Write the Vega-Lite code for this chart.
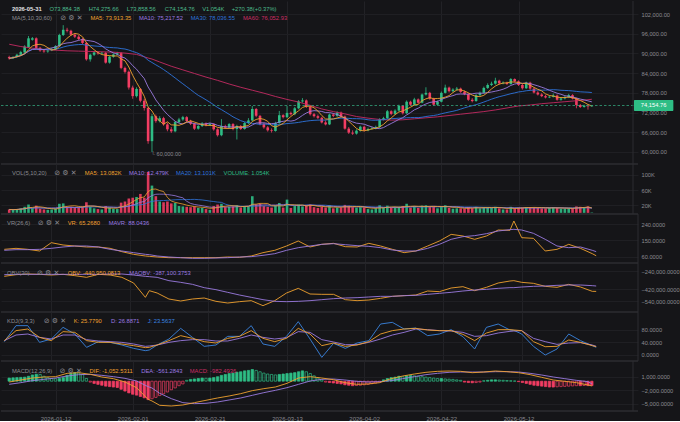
{
"$schema":"https://vega.github.io/schema/vega-lite/v6.json",
"background":"#151518",
"padding":0,
"spacing":0,
"bounds":"flush",
"config":{
"view":{"stroke":null},
"font":"Liberation Sans",
"axis":{"title":null,"ticks":false,"tickSize":0,"domain":false,"labelColor":"#8b8b91","labelFont":"Liberation Sans","labelFontSize":5.7,"labelPadding":3,"labelFlush":false,"labelOverlap":false,"labelBound":false,"gridColor":"#1f1f23","gridWidth":1},
"text":{"font":"Liberation Sans","fontSize":5.8,"align":"left","baseline":"middle"},
"line":{"strokeWidth":0.9},
"concat":{"spacing":0}
},
"datasets":{
"k":[
{"d":"2025-12-31","o":88900,"h":89300,"l":88100,"c":88500,"v":9000,"m":700},
{"d":"2026-01-01","o":88500,"h":89200,"l":88300,"c":88900,"v":8000,"m":750},
{"d":"2026-01-02","o":88900,"h":89900,"l":88700,"c":89600,"v":10000,"m":800},
{"d":"2026-01-03","o":89600,"h":90800,"l":89400,"c":90400,"v":12000,"m":850},
{"d":"2026-01-04","o":90300,"h":92500,"l":90100,"c":92100,"v":16000,"m":900},
{"d":"2026-01-05","o":91900,"h":95300,"l":91700,"c":94600,"v":22000,"m":1100},
{"d":"2026-01-06","o":94200,"h":95000,"l":93900,"c":94600,"v":12000,"m":1400},
{"d":"2026-01-07","o":94600,"h":94900,"l":91300,"c":91700,"v":19000,"m":1550},
{"d":"2026-01-08","o":91700,"h":92000,"l":90500,"c":90900,"v":11000,"m":1500},
{"d":"2026-01-09","o":90900,"h":91400,"l":90200,"c":90600,"v":9000,"m":1100},
{"d":"2026-01-10","o":90600,"h":91200,"l":90200,"c":90900,"v":8000,"m":800},
{"d":"2026-01-11","o":90900,"h":91700,"l":90700,"c":91300,"v":9000,"m":600},
{"d":"2026-01-12","o":91300,"h":92500,"l":91000,"c":92200,"v":12000,"m":550},
{"d":"2026-01-13","o":92200,"h":96000,"l":92000,"c":95600,"v":24000,"m":600},
{"d":"2026-01-14","o":95600,"h":98600,"l":95300,"c":97200,"v":25000,"m":800},
{"d":"2026-01-15","o":97200,"h":97800,"l":96400,"c":96900,"v":15000,"m":1300},
{"d":"2026-01-16","o":96900,"h":97200,"l":95400,"c":95700,"v":16000,"m":1700},
{"d":"2026-01-17","o":95700,"h":96100,"l":94700,"c":95100,"v":14000,"m":1900},
{"d":"2026-01-18","o":95100,"h":95600,"l":94000,"c":94400,"v":15000,"m":1800},
{"d":"2026-01-19","o":94400,"h":94700,"l":92800,"c":93200,"v":17000,"m":1500},
{"d":"2026-01-20","o":93200,"h":93500,"l":87800,"c":88200,"v":28000,"m":600},
{"d":"2026-01-21","o":88200,"h":89900,"l":87500,"c":89600,"v":16000,"m":-200},
{"d":"2026-01-22","o":89600,"h":90700,"l":89200,"c":90300,"v":12000,"m":-500},
{"d":"2026-01-23","o":90300,"h":90600,"l":89600,"c":90000,"v":10000,"m":-700},
{"d":"2026-01-24","o":90000,"h":90500,"l":89700,"c":90200,"v":9000,"m":-900},
{"d":"2026-01-25","o":90200,"h":90400,"l":86900,"c":87200,"v":18000,"m":-1100},
{"d":"2026-01-26","o":87200,"h":89300,"l":86900,"c":89000,"v":14000,"m":-1200},
{"d":"2026-01-27","o":89000,"h":90000,"l":88700,"c":89700,"v":11000,"m":-1300},
{"d":"2026-01-28","o":89700,"h":90500,"l":89400,"c":90100,"v":10000,"m":-1400},
{"d":"2026-01-29","o":90100,"h":90400,"l":85200,"c":85600,"v":27000,"m":-1800},
{"d":"2026-01-30","o":85600,"h":86000,"l":83900,"c":84400,"v":30000,"m":-2200},
{"d":"2026-01-31","o":84400,"h":84800,"l":79000,"c":79600,"v":38000,"m":-2600},
{"d":"2026-02-01","o":79600,"h":80200,"l":76200,"c":77000,"v":40000,"m":-2900},
{"d":"2026-02-02","o":77000,"h":79700,"l":76600,"c":79200,"v":42000,"m":-3100},
{"d":"2026-02-03","o":79200,"h":79500,"l":75100,"c":75600,"v":50000,"m":-3400},
{"d":"2026-02-04","o":75600,"h":76200,"l":72600,"c":73400,"v":40000,"m":-3700},
{"d":"2026-02-05","o":73400,"h":73700,"l":62500,"c":63300,"v":108000,"m":-4100},
{"d":"2026-02-06","o":63300,"h":71600,"l":60000,"c":70900,"v":72000,"m":-3900},
{"d":"2026-02-07","o":70900,"h":71400,"l":68900,"c":69400,"v":44000,"m":-3600},
{"d":"2026-02-08","o":69400,"h":70900,"l":69000,"c":70300,"v":30000,"m":-3200},
{"d":"2026-02-09","o":70300,"h":70700,"l":68000,"c":68400,"v":28000,"m":-2800},
{"d":"2026-02-10","o":68400,"h":68900,"l":66300,"c":66900,"v":30000,"m":-2400},
{"d":"2026-02-11","o":66900,"h":67600,"l":65800,"c":66300,"v":25000,"m":-1900},
{"d":"2026-02-12","o":66300,"h":69400,"l":66000,"c":69100,"v":26000,"m":-1500},
{"d":"2026-02-13","o":69100,"h":70400,"l":68800,"c":69900,"v":18000,"m":-1000},
{"d":"2026-02-14","o":69900,"h":71000,"l":69500,"c":70600,"v":17000,"m":-600},
{"d":"2026-02-15","o":70600,"h":70900,"l":69000,"c":69400,"v":16000,"m":200},
{"d":"2026-02-16","o":69400,"h":69800,"l":68200,"c":68600,"v":15000,"m":400},
{"d":"2026-02-17","o":68600,"h":68900,"l":66700,"c":67100,"v":17000,"m":500},
{"d":"2026-02-18","o":67100,"h":68200,"l":66800,"c":67900,"v":13000,"m":600},
{"d":"2026-02-19","o":67900,"h":69100,"l":67600,"c":68700,"v":13000,"m":700},
{"d":"2026-02-20","o":68700,"h":69000,"l":67800,"c":68200,"v":10000,"m":650},
{"d":"2026-02-21","o":68200,"h":68900,"l":67900,"c":68500,"v":8000,"m":700},
{"d":"2026-02-22","o":68500,"h":68700,"l":66500,"c":66900,"v":18000,"m":800},
{"d":"2026-02-23","o":66900,"h":67200,"l":64700,"c":65100,"v":22000,"m":1000},
{"d":"2026-02-24","o":65100,"h":70000,"l":64800,"c":67900,"v":24000,"m":1300},
{"d":"2026-02-25","o":67900,"h":68300,"l":67000,"c":67400,"v":15000,"m":1500},
{"d":"2026-02-26","o":67400,"h":68800,"l":67100,"c":68500,"v":16000,"m":1700},
{"d":"2026-02-27","o":68500,"h":68800,"l":66600,"c":67000,"v":17000,"m":1800},
{"d":"2026-02-28","o":67000,"h":68300,"l":63800,"c":67900,"v":20000,"m":2000},
{"d":"2026-03-01","o":67900,"h":68200,"l":66700,"c":67000,"v":14000,"m":2100},
{"d":"2026-03-02","o":67000,"h":69100,"l":66800,"c":68800,"v":18000,"m":2300},
{"d":"2026-03-03","o":68800,"h":70300,"l":68500,"c":69600,"v":17000,"m":2400},
{"d":"2026-03-04","o":69600,"h":74000,"l":69300,"c":73100,"v":44000,"m":2600},
{"d":"2026-03-05","o":73100,"h":73400,"l":70600,"c":71000,"v":22000,"m":2400},
{"d":"2026-03-06","o":71000,"h":71300,"l":68100,"c":68500,"v":24000,"m":2100},
{"d":"2026-03-07","o":68500,"h":68900,"l":67100,"c":67500,"v":18000,"m":1800},
{"d":"2026-03-08","o":67500,"h":67900,"l":66200,"c":66600,"v":16000,"m":1600},
{"d":"2026-03-09","o":66600,"h":67200,"l":65900,"c":66400,"v":14000,"m":1500},
{"d":"2026-03-10","o":66400,"h":69200,"l":66200,"c":68800,"v":20000,"m":1400},
{"d":"2026-03-11","o":68800,"h":72500,"l":68600,"c":71200,"v":26000,"m":1500},
{"d":"2026-03-12","o":71200,"h":71500,"l":70200,"c":70600,"v":14000,"m":1600},
{"d":"2026-03-13","o":70600,"h":74000,"l":70300,"c":71900,"v":35000,"m":1700},
{"d":"2026-03-14","o":71900,"h":72300,"l":71100,"c":71500,"v":13000,"m":1800},
{"d":"2026-03-15","o":71500,"h":73700,"l":71200,"c":73300,"v":18000,"m":1900},
{"d":"2026-03-16","o":73300,"h":75800,"l":73000,"c":75400,"v":22000,"m":2100},
{"d":"2026-03-17","o":75400,"h":76400,"l":75000,"c":75700,"v":17000,"m":2300},
{"d":"2026-03-18","o":75700,"h":76000,"l":73400,"c":73800,"v":20000,"m":2100},
{"d":"2026-03-19","o":73800,"h":74100,"l":71100,"c":71500,"v":22000,"m":1700},
{"d":"2026-03-20","o":71500,"h":71900,"l":70500,"c":70900,"v":15000,"m":1200},
{"d":"2026-03-21","o":70900,"h":71400,"l":70000,"c":70400,"v":13000,"m":700},
{"d":"2026-03-22","o":70400,"h":70700,"l":68700,"c":69000,"v":16000,"m":300},
{"d":"2026-03-23","o":69000,"h":69600,"l":68100,"c":68400,"v":14000,"m":-200},
{"d":"2026-03-24","o":68400,"h":71700,"l":68200,"c":71400,"v":20000,"m":-300},
{"d":"2026-03-25","o":71400,"h":71800,"l":70600,"c":71000,"v":12000,"m":-400},
{"d":"2026-03-26","o":71000,"h":72400,"l":70700,"c":72000,"v":14000,"m":-500},
{"d":"2026-03-27","o":72000,"h":72300,"l":70400,"c":70800,"v":14000,"m":-600},
{"d":"2026-03-28","o":70800,"h":71100,"l":66800,"c":67100,"v":21000,"m":-800},
{"d":"2026-03-29","o":67100,"h":67600,"l":65500,"c":65900,"v":19000,"m":-900},
{"d":"2026-03-30","o":65900,"h":66600,"l":65200,"c":65600,"v":15000,"m":-1000},
{"d":"2026-03-31","o":65600,"h":66900,"l":65300,"c":66500,"v":14000,"m":-950},
{"d":"2026-04-01","o":66500,"h":68000,"l":66200,"c":67700,"v":15000,"m":-900},
{"d":"2026-04-02","o":67700,"h":68000,"l":66200,"c":66600,"v":14000,"m":-800},
{"d":"2026-04-03","o":66600,"h":67400,"l":66300,"c":67000,"v":10000,"m":-700},
{"d":"2026-04-04","o":67000,"h":67600,"l":66800,"c":67200,"v":9000,"m":-550},
{"d":"2026-04-05","o":67200,"h":68000,"l":66900,"c":67600,"v":12000,"m":-400},
{"d":"2026-04-06","o":67600,"h":70300,"l":67300,"c":69900,"v":20000,"m":-200},
{"d":"2026-04-07","o":69900,"h":70700,"l":69600,"c":70300,"v":14000,"m":300},
{"d":"2026-04-08","o":70300,"h":72800,"l":70000,"c":72400,"v":19000,"m":600},
{"d":"2026-04-09","o":72400,"h":72700,"l":71200,"c":71600,"v":13000,"m":800},
{"d":"2026-04-10","o":71600,"h":73000,"l":71300,"c":72600,"v":14000,"m":900},
{"d":"2026-04-11","o":72600,"h":74400,"l":72300,"c":74000,"v":16000,"m":1100},
{"d":"2026-04-12","o":74000,"h":74300,"l":71400,"c":71800,"v":18000,"m":1000},
{"d":"2026-04-13","o":71800,"h":75700,"l":71600,"c":75300,"v":24000,"m":1200},
{"d":"2026-04-14","o":75300,"h":75600,"l":74000,"c":74400,"v":14000,"m":1300},
{"d":"2026-04-15","o":74400,"h":76500,"l":74100,"c":76000,"v":17000,"m":1200},
{"d":"2026-04-16","o":76000,"h":76300,"l":74700,"c":75000,"v":13000,"m":1100},
{"d":"2026-04-17","o":75000,"h":77800,"l":74800,"c":77500,"v":19000,"m":1000},
{"d":"2026-04-18","o":77500,"h":79700,"l":77200,"c":78000,"v":20000,"m":900},
{"d":"2026-04-19","o":78000,"h":78300,"l":75900,"c":76200,"v":16000,"m":800},
{"d":"2026-04-20","o":76200,"h":76500,"l":74100,"c":74400,"v":17000,"m":700},
{"d":"2026-04-21","o":74400,"h":75700,"l":74100,"c":75300,"v":12000,"m":600},
{"d":"2026-04-22","o":75300,"h":78400,"l":75100,"c":78000,"v":18000,"m":600},
{"d":"2026-04-23","o":78000,"h":80500,"l":77800,"c":79600,"v":20000,"m":500},
{"d":"2026-04-24","o":79600,"h":79900,"l":78100,"c":78500,"v":13000,"m":450},
{"d":"2026-04-25","o":78500,"h":79400,"l":78200,"c":79000,"v":11000,"m":400},
{"d":"2026-04-26","o":79000,"h":79800,"l":78700,"c":79300,"v":12000,"m":300},
{"d":"2026-04-27","o":79300,"h":79600,"l":78000,"c":78300,"v":12000,"m":200},
{"d":"2026-04-28","o":78300,"h":78700,"l":77300,"c":77600,"v":11000,"m":-200},
{"d":"2026-04-29","o":77600,"h":77900,"l":75600,"c":75900,"v":15000,"m":-300},
{"d":"2026-04-30","o":75900,"h":76400,"l":75100,"c":75500,"v":12000,"m":-350},
{"d":"2026-05-01","o":75500,"h":77600,"l":75300,"c":77300,"v":16000,"m":-300},
{"d":"2026-05-02","o":77300,"h":78400,"l":77000,"c":78000,"v":12000,"m":-200},
{"d":"2026-05-03","o":78000,"h":79900,"l":77800,"c":79500,"v":15000,"m":100},
{"d":"2026-05-04","o":79500,"h":80900,"l":79200,"c":80400,"v":15000,"m":200},
{"d":"2026-05-05","o":80400,"h":81400,"l":80100,"c":80800,"v":13000,"m":300},
{"d":"2026-05-06","o":80800,"h":82600,"l":80500,"c":81700,"v":16000,"m":300},
{"d":"2026-05-07","o":81700,"h":82000,"l":80500,"c":80900,"v":12000,"m":250},
{"d":"2026-05-08","o":80900,"h":81500,"l":80600,"c":81100,"v":9000,"m":200},
{"d":"2026-05-09","o":81100,"h":81400,"l":80400,"c":80700,"v":9000,"m":150},
{"d":"2026-05-10","o":80700,"h":82500,"l":80500,"c":82200,"v":16000,"m":100},
{"d":"2026-05-11","o":82200,"h":82400,"l":81200,"c":81500,"v":12000,"m":50},
{"d":"2026-05-12","o":81500,"h":81800,"l":80100,"c":80400,"v":14000,"m":-100},
{"d":"2026-05-13","o":80400,"h":80700,"l":79000,"c":79400,"v":14000,"m":-300},
{"d":"2026-05-14","o":79400,"h":81400,"l":79200,"c":81100,"v":15000,"m":-500},
{"d":"2026-05-15","o":81100,"h":81400,"l":78900,"c":79300,"v":15000,"m":-700},
{"d":"2026-05-16","o":79300,"h":79600,"l":77800,"c":78100,"v":14000,"m":-900},
{"d":"2026-05-17","o":78100,"h":78500,"l":77200,"c":77500,"v":13000,"m":-1000},
{"d":"2026-05-18","o":77500,"h":77900,"l":76700,"c":77000,"v":12000,"m":-1100},
{"d":"2026-05-19","o":77000,"h":77400,"l":76300,"c":76600,"v":12000,"m":-1200},
{"d":"2026-05-20","o":76600,"h":77200,"l":76400,"c":76800,"v":13230,"m":-1300},
{"d":"2026-05-21","o":76800,"h":77800,"l":76600,"c":77200,"v":15000,"m":-1300},
{"d":"2026-05-22","o":77200,"h":77500,"l":75600,"c":75900,"v":13000,"m":-1250},
{"d":"2026-05-23","o":75900,"h":76700,"l":75600,"c":76300,"v":11000,"m":-1200},
{"d":"2026-05-24","o":76300,"h":77100,"l":76000,"c":76700,"v":11000,"m":-1150},
{"d":"2026-05-25","o":76700,"h":77700,"l":76400,"c":77300,"v":12000,"m":-1100},
{"d":"2026-05-26","o":77300,"h":77600,"l":76000,"c":76300,"v":12380,"m":-1050},
{"d":"2026-05-27","o":76300,"h":76500,"l":73300,"c":74300,"v":17000,"m":-1000},
{"d":"2026-05-28","o":74300,"h":74600,"l":73400,"c":73700,"v":16000,"m":-1000},
{"d":"2026-05-29","o":73700,"h":74400,"l":73500,"c":74100,"v":14000,"m":-950},
{"d":"2026-05-30","o":74100,"h":74500,"l":72900,"c":73884.38,"v":17356,"m":-980},
{"d":"2026-05-31","o":73884.38,"h":74275.66,"l":73858.56,"c":74154.76,"v":1054,"m":-982.49}
],
"ind":[
{"d":"2025-12-31","ma60":92800,"vr":100.9,"mavr":95.4,"obv":-290300,"maobv":-273700,"kk":44.9,"kd":44.9,"kj":41.7,"dif":-177,"dea":-695},
{"d":"2026-01-03","ma60":92100,"vr":106.5,"mavr":99.1,"obv":-273700,"maobv":-270300,"kk":76.9,"kd":63,"kj":92.9,"dif":267,"dea":-325},
{"d":"2026-01-06","ma60":91600,"vr":100.9,"mavr":99.1,"obv":-267000,"maobv":-270300,"kk":82.2,"kd":66.2,"kj":92.9,"dif":711,"dea":119},
{"d":"2026-01-09","ma60":91200,"vr":91.7,"mavr":100.9,"obv":-270300,"maobv":-270300,"kk":55.5,"kd":55.5,"kj":39.5,"dif":933,"dea":415},
{"d":"2026-01-12","ma60":91000,"vr":138,"mavr":106.5,"obv":-277000,"maobv":-270300,"kk":44.9,"kd":50.2,"kj":50.2,"dif":1007,"dea":711},
{"d":"2026-01-15","ma60":90800,"vr":125,"mavr":113.9,"obv":-270300,"maobv":-270300,"kk":73.7,"kd":63,"kj":87.5,"dif":1747,"dea":1155},
{"d":"2026-01-18","ma60":90700,"vr":119.4,"mavr":119.4,"obv":-283700,"maobv":-270300,"kk":71.5,"kd":63,"kj":66.2,"dif":1895,"dea":1451},
{"d":"2026-01-21","ma60":90600,"vr":113.9,"mavr":119.4,"obv":-300300,"maobv":-270300,"kk":44.9,"kd":48.1,"kj":23.5,"dif":1525,"dea":1525},
{"d":"2026-01-24","ma60":90500,"vr":113.9,"mavr":113.9,"obv":-270300,"maobv":-270300,"kk":39.5,"kd":43.8,"kj":41.7,"dif":933,"dea":1303},
{"d":"2026-01-27","ma60":90400,"vr":106.5,"mavr":100.9,"obv":-277000,"maobv":-267000,"kk":39.5,"kd":41.7,"kj":39.5,"dif":563,"dea":1007},
{"d":"2026-01-30","ma60":90100,"vr":88,"mavr":91.7,"obv":-300300,"maobv":-267000,"kk":34.2,"kd":39.5,"kj":31,"dif":-177,"dea":637},
{"d":"2026-02-02","ma60":89700,"vr":73.1,"mavr":82.4,"obv":-357000,"maobv":-277000,"kk":28.9,"kd":34.2,"kj":20.3,"dif":-1435,"dea":45},
{"d":"2026-02-05","ma60":88600,"vr":63.9,"mavr":73.1,"obv":-500300,"maobv":-290300,"kk":22.5,"kd":26.7,"kj":12.9,"dif":-4025,"dea":-1213},
{"d":"2026-02-06","ma60":88300,"vr":62,"mavr":71.3,"obv":-433700,"maobv":-293700,"kk":23.5,"kd":27.8,"kj":15,"dif":-4395,"dea":-1509},
{"d":"2026-02-08","ma60":87400,"vr":58.3,"mavr":63.9,"obv":-457000,"maobv":-300300,"kk":31,"kd":31,"kj":31,"dif":-5357,"dea":-2693},
{"d":"2026-02-11","ma60":86100,"vr":54.6,"mavr":58.3,"obv":-517000,"maobv":-333700,"kk":44.9,"kd":39.5,"kj":50.2,"dif":-5505,"dea":-3877},
{"d":"2026-02-14","ma60":85000,"vr":54.6,"mavr":54.6,"obv":-537000,"maobv":-350300,"kk":60.9,"kd":44.9,"kj":84.3,"dif":-5283,"dea":-4765},
{"d":"2026-02-17","ma60":83900,"vr":54.6,"mavr":50.9,"obv":-517000,"maobv":-370300,"kk":52.3,"kd":48.1,"kj":55.5,"dif":-4765,"dea":-4987},
{"d":"2026-02-20","ma60":82800,"vr":54.6,"mavr":50.9,"obv":-507000,"maobv":-403700,"kk":41.7,"kd":48.1,"kj":26.7,"dif":-4247,"dea":-4913},
{"d":"2026-02-23","ma60":81800,"vr":54.6,"mavr":52.8,"obv":-540300,"maobv":-423700,"kk":37.4,"kd":43.8,"kj":31,"dif":-3729,"dea":-4617},
{"d":"2026-02-26","ma60":80700,"vr":58.3,"mavr":54.6,"obv":-557000,"maobv":-450300,"kk":52.3,"kd":43.8,"kj":58.7,"dif":-3285,"dea":-4173},
{"d":"2026-03-01","ma60":79700,"vr":56.5,"mavr":58.3,"obv":-543700,"maobv":-477000,"kk":58.7,"kd":52.3,"kj":58.7,"dif":-2767,"dea":-3729},
{"d":"2026-03-04","ma60":78800,"vr":63.9,"mavr":60.2,"obv":-533700,"maobv":-500300,"kk":76.9,"kd":63,"kj":92.9,"dif":-2101,"dea":-3137},
{"d":"2026-03-07","ma60":77900,"vr":82.4,"mavr":67.6,"obv":-583700,"maobv":-523700,"kk":52.3,"kd":55.5,"kj":34.2,"dif":-1657,"dea":-2545},
{"d":"2026-03-10","ma60":76900,"vr":95.4,"mavr":76.8,"obv":-533700,"maobv":-540300,"kk":41.7,"kd":50.2,"kj":26.7,"dif":-1287,"dea":-2027},
{"d":"2026-03-13","ma60":76000,"vr":119.4,"mavr":95.4,"obv":-457000,"maobv":-543700,"kk":52.3,"kd":54.5,"kj":58.7,"dif":-473,"dea":-1435},
{"d":"2026-03-16","ma60":75200,"vr":147.2,"mavr":110.2,"obv":-410300,"maobv":-540300,"kk":84.3,"kd":73.7,"kj":105.7,"dif":711,"dea":-695},
{"d":"2026-03-19","ma60":74200,"vr":113.9,"mavr":119.4,"obv":-467000,"maobv":-533700,"kk":66.2,"kd":71.5,"kj":50.2,"dif":1007,"dea":45},
{"d":"2026-03-22","ma60":73100,"vr":128.7,"mavr":128.7,"obv":-470300,"maobv":-523700,"kk":28.9,"kd":48.1,"kj":-8.5,"dif":711,"dea":415},
{"d":"2026-03-25","ma60":72300,"vr":134.3,"mavr":132.4,"obv":-470300,"maobv":-513700,"kk":37.4,"kd":40.6,"kj":36.3,"dif":341,"dea":489},
{"d":"2026-03-28","ma60":71600,"vr":115.7,"mavr":126.8,"obv":-523700,"maobv":-507000,"kk":26.7,"kd":32.1,"kj":20.3,"dif":-325,"dea":267},
{"d":"2026-03-31","ma60":70800,"vr":113.9,"mavr":121.3,"obv":-533700,"maobv":-503700,"kk":31,"kd":32.1,"kj":37.4,"dif":-695,"dea":-29},
{"d":"2026-04-03","ma60":70300,"vr":134.3,"mavr":117.6,"obv":-527000,"maobv":-497000,"kk":41.7,"kd":39.5,"kj":44.9,"dif":-621,"dea":-177},
{"d":"2026-04-06","ma60":69900,"vr":119.4,"mavr":110.2,"obv":-510300,"maobv":-490300,"kk":66.2,"kd":50.2,"kj":98.2,"dif":-325,"dea":-103},
{"d":"2026-04-09","ma60":69700,"vr":100.9,"mavr":97.2,"obv":-490300,"maobv":-490300,"kk":76.9,"kd":63,"kj":103.5,"dif":563,"dea":119},
{"d":"2026-04-12","ma60":69800,"vr":82.4,"mavr":91.7,"obv":-483700,"maobv":-483700,"kk":82.2,"kd":71.5,"kj":82.2,"dif":1155,"dea":563},
{"d":"2026-04-15","ma60":70100,"vr":91.7,"mavr":91.7,"obv":-477000,"maobv":-480300,"kk":84.3,"kd":82.2,"kj":85.4,"dif":1599,"dea":1007},
{"d":"2026-04-18","ma60":70400,"vr":119.4,"mavr":106.5,"obv":-437000,"maobv":-470300,"kk":79,"kd":80.1,"kj":60.9,"dif":1969,"dea":1451},
{"d":"2026-04-21","ma60":70700,"vr":147.2,"mavr":128.7,"obv":-443700,"maobv":-460300,"kk":76.9,"kd":76.9,"kj":66.2,"dif":2191,"dea":1747},
{"d":"2026-04-24","ma60":71100,"vr":184,"mavr":156.5,"obv":-407000,"maobv":-450300,"kk":76.9,"kd":75.8,"kj":80.1,"dif":2265,"dea":1969},
{"d":"2026-04-27","ma60":71500,"vr":175,"mavr":171.3,"obv":-393700,"maobv":-437000,"kk":65.1,"kd":71.5,"kj":57.7,"dif":2191,"dea":2043},
{"d":"2026-04-30","ma60":71900,"vr":156.5,"mavr":176.9,"obv":-433700,"maobv":-427000,"kk":44.9,"kd":58.7,"kj":18.2,"dif":1895,"dea":2043},
{"d":"2026-05-03","ma60":72300,"vr":175,"mavr":188,"obv":-400300,"maobv":-420300,"kk":69.4,"kd":60.9,"kj":87.5,"dif":2043,"dea":2043},
{"d":"2026-05-06","ma60":72800,"vr":208.3,"mavr":202.8,"obv":-357000,"maobv":-410300,"kk":80.1,"kd":69.4,"kj":98.2,"dif":2265,"dea":2117},
{"d":"2026-05-09","ma60":73400,"vr":206.5,"mavr":210.2,"obv":-337000,"maobv":-403700,"kk":80.1,"kd":74.7,"kj":79,"dif":2117,"dea":2117},
{"d":"2026-05-10","ma60":73600,"vr":258.3,"mavr":212,"obv":-333700,"maobv":-403700,"kk":79,"kd":75.8,"kj":77.9,"dif":2043,"dea":2080},
{"d":"2026-05-12","ma60":74000,"vr":165.7,"mavr":208.3,"obv":-350300,"maobv":-397000,"kk":76.9,"kd":76.9,"kj":66.2,"dif":1895,"dea":2043},
{"d":"2026-05-15","ma60":74300,"vr":162,"mavr":189.8,"obv":-360300,"maobv":-390300,"kk":41.7,"kd":52.3,"kj":26.7,"dif":1451,"dea":1747},
{"d":"2026-05-18","ma60":74700,"vr":91.7,"mavr":156.5,"obv":-390300,"maobv":-387000,"kk":25.6,"kd":41.7,"kj":-1,"dif":859,"dea":1377},
{"d":"2026-05-21","ma60":75000,"vr":100.9,"mavr":119.4,"obv":-400300,"maobv":-380300,"kk":26.7,"kd":33.1,"kj":18.2,"dif":267,"dea":933},
{"d":"2026-05-24","ma60":75300,"vr":128.7,"mavr":110.2,"obv":-370300,"maobv":-377000,"kk":47,"kd":37.4,"kj":66.2,"dif":-29,"dea":563},
{"d":"2026-05-27","ma60":75600,"vr":106.5,"mavr":113.9,"obv":-397000,"maobv":-377000,"kk":39.5,"kd":38.5,"kj":44.9,"dif":-325,"dea":193},
{"d":"2026-05-30","ma60":75900,"vr":76.8,"mavr":95.4,"obv":-440300,"maobv":-383700,"kk":28.9,"kd":31,"kj":28.9,"dif":-843,"dea":-103},
{"d":"2026-05-31","ma60":76052.93,"vr":65.268,"mavr":88.0436,"obv":-440950.0813,"maobv":-387100.3753,"kk":25.779,"kd":26.8871,"kj":23.5637,"dif":-1052.5311,"dea":-561.2843}
]
},
"vconcat":[
{"width":637,"height":163,"layer":[
{"data":{"name":"k"},"mark":{"type":"rule","strokeWidth":0.8},"encoding":{
"x":{"field":"d","type":"temporal","scale":{"type":"utc","nice":false,"domain":[{"year":2025,"month":12,"date":30,"hours":4,"utc":true},{"year":2026,"month":6,"date":10,"hours":16,"utc":true}]},"axis":{"values":[{"year":2026,"month":1,"date":12,"utc":true},{"year":2026,"month":2,"date":1,"utc":true},{"year":2026,"month":2,"date":21,"utc":true},{"year":2026,"month":3,"date":13,"utc":true},{"year":2026,"month":4,"date":2,"utc":true},{"year":2026,"month":4,"date":22,"utc":true},{"year":2026,"month":5,"date":12,"utc":true}],"tickCount":50,"labels":false,"grid":true,"gridColor":"#222226"}},
"y":{"field":"l","type":"quantitative","scale":{"domain":[56345,105960],"nice":false},"axis":{"orient":"right","values":[60000,66000,72000,78000,84000,90000,96000,102000],"tickCount":50,"format":",.2f","grid":true}},
"y2":{"field":"h"},
"color":{"condition":{"test":"datum.c>=datum.o","value":"#2ebd85"},"value":"#f23d63"}}},
{"data":{"name":"k"},"mark":{"type":"bar","width":2.6},"encoding":{"x":{"field":"d","type":"temporal"},"y":{"field":"o","type":"quantitative"},"y2":{"field":"c"},"color":{"condition":{"test":"datum.c>=datum.o","value":"#2ebd85"},"value":"#f23d63"}}},
{"data":{"name":"ind"},"mark":{"type":"line","color":"#c42a62"},"encoding":{"x":{"field":"d","type":"temporal"},"y":{"field":"ma60","type":"quantitative"}}},
{"data":{"name":"k"},"transform":[{"window":[{"op":"mean","field":"c","as":"ma30"}],"frame":[-29,0],"sort":[{"field":"d"}]}],"mark":{"type":"line","color":"#2e74dc"},"encoding":{"x":{"field":"d","type":"temporal"},"y":{"field":"ma30","type":"quantitative"}}},
{"data":{"name":"k"},"transform":[{"window":[{"op":"mean","field":"c","as":"ma10"}],"frame":[-9,0],"sort":[{"field":"d"}]}],"mark":{"type":"line","color":"#9b7ae0"},"encoding":{"x":{"field":"d","type":"temporal"},"y":{"field":"ma10","type":"quantitative"}}},
{"data":{"name":"k"},"transform":[{"window":[{"op":"mean","field":"c","as":"ma5"}],"frame":[-4,0],"sort":[{"field":"d"}]}],"mark":{"type":"line","color":"#f0a12f"},"encoding":{"x":{"field":"d","type":"temporal"},"y":{"field":"ma5","type":"quantitative"}}},
{"data":{"values":[{"p":74154.76}]},"mark":{"type":"rule","color":"#34a57c","strokeWidth":0.8,"strokeDash":[2.5,2]},"encoding":{"y":{"field":"p","type":"quantitative"}}},
{"data":{"values":[{}]},"mark":{"type":"rect","color":"#2ebd85","cornerRadius":1},"encoding":{"x":{"datum":{"year":2026,"month":6,"date":10,"hours":22,"utc":true}},"x2":{"datum":{"year":2026,"month":6,"date":21,"hours":3,"utc":true}},"y":{"datum":75824},"y2":{"datum":72476}}},
{"data":{"values":[{"p":74154.76,"t":"74,154.76"}]},"mark":{"type":"text","color":"#ffffff","align":"center","fontSize":5.8},"encoding":{"x":{"datum":{"year":2026,"month":6,"date":16,"hours":0,"utc":true}},"y":{"field":"p","type":"quantitative"},"text":{"field":"t"}}},
{"data":{"values":[{"t":"└ 60,000.00"}]},"mark":{"type":"text","color":"#8b8b91","fontSize":5.5},"encoding":{"x":{"datum":{"year":2026,"month":2,"date":5,"hours":19,"utc":true}},"y":{"datum":59300},"text":{"field":"t"}}},
{"data":{"values":[{}]},"mark":{"type":"rule","color":"#2c2c31","strokeWidth":1.5},"encoding":{"y":{"datum":56345}}},
{"data":{"values":[{}]},"mark":{"type":"rule","color":"#2c2c31","strokeWidth":1},"encoding":{"x":{"datum":{"year":2026,"month":6,"date":10,"hours":16,"utc":true}}}},
{"data":{"values":[{"t":"2026-05-31"}]},"mark":{"type":"text","color":"#e4e4e6","fontWeight":"bold"},"encoding":{"x":{"datum":{"year":2025,"month":12,"date":31,"hours":17,"utc":true}},"y":{"datum":103677},"text":{"field":"t"}}},
{"data":{"values":[{"t":"O73,884.38"}]},"mark":{"type":"text","color":"#4dbb8c"},"encoding":{"x":{"datum":{"year":2026,"month":1,"date":10,"hours":11,"utc":true}},"y":{"datum":103677},"text":{"field":"t"}}},
{"data":{"values":[{"t":"H74,275.66"}]},"mark":{"type":"text","color":"#4dbb8c"},"encoding":{"x":{"datum":{"year":2026,"month":1,"date":20,"hours":14,"utc":true}},"y":{"datum":103677},"text":{"field":"t"}}},
{"data":{"values":[{"t":"L73,858.56"}]},"mark":{"type":"text","color":"#4dbb8c"},"encoding":{"x":{"datum":{"year":2026,"month":1,"date":30,"hours":11,"utc":true}},"y":{"datum":103677},"text":{"field":"t"}}},
{"data":{"values":[{"t":"C74,154.76"}]},"mark":{"type":"text","color":"#4dbb8c"},"encoding":{"x":{"datum":{"year":2026,"month":2,"date":9,"hours":7,"minutes":30,"utc":true}},"y":{"datum":103677},"text":{"field":"t"}}},
{"data":{"values":[{"t":"V1.054K"}]},"mark":{"type":"text","color":"#4dbb8c"},"encoding":{"x":{"datum":{"year":2026,"month":2,"date":19,"hours":0,"utc":true}},"y":{"datum":103677},"text":{"field":"t"}}},
{"data":{"values":[{"t":"+270.38(+0.37%)"}]},"mark":{"type":"text","color":"#4dbb8c"},"encoding":{"x":{"datum":{"year":2026,"month":2,"date":26,"hours":16,"utc":true}},"y":{"datum":103677},"text":{"field":"t"}}},
{"data":{"values":[{"t":"MA(5,10,30,60)"}]},"mark":{"type":"text","color":"#8b8b91"},"encoding":{"x":{"datum":{"year":2025,"month":12,"date":31,"hours":17,"utc":true}},"y":{"datum":100724},"text":{"field":"t"}}},
{"data":{"values":[{"t":"⊘  ⚙  ✕"}]},"mark":{"type":"text","color":"#8b8b91","font":"DejaVu Sans","fontSize":7},"encoding":{"x":{"datum":{"year":2026,"month":1,"date":13,"hours":5,"utc":true}},"y":{"datum":100724},"text":{"field":"t"}}},
{"data":{"values":[{"t":"MA5: 73,913.35"}]},"mark":{"type":"text","color":"#f0a12f"},"encoding":{"x":{"datum":{"year":2026,"month":1,"date":21,"hours":1,"utc":true}},"y":{"datum":100724},"text":{"field":"t"}}},
{"data":{"values":[{"t":"MA10: 75,217.52"}]},"mark":{"type":"text","color":"#9b7ae0"},"encoding":{"x":{"datum":{"year":2026,"month":2,"date":2,"hours":14,"minutes":30,"utc":true}},"y":{"datum":100724},"text":{"field":"t"}}},
{"data":{"values":[{"t":"MA30: 78,036.55"}]},"mark":{"type":"text","color":"#2e74dc"},"encoding":{"x":{"datum":{"year":2026,"month":2,"date":16,"hours":1,"utc":true}},"y":{"datum":100724},"text":{"field":"t"}}},
{"data":{"values":[{"t":"MA60: 76,052.93"}]},"mark":{"type":"text","color":"#cc2e66"},"encoding":{"x":{"datum":{"year":2026,"month":3,"date":1,"hours":14,"utc":true}},"y":{"datum":100724},"text":{"field":"t"}}}
]},
{"width":637,"height":50,"layer":[
{"data":{"name":"k"},"mark":{"type":"bar","width":2.6,"opacity":0.9},"encoding":{
"x":{"field":"d","type":"temporal","scale":{"type":"utc","nice":false,"domain":[{"year":2025,"month":12,"date":30,"hours":4,"utc":true},{"year":2026,"month":6,"date":10,"hours":16,"utc":true}]},"axis":{"values":[{"year":2026,"month":1,"date":12,"utc":true},{"year":2026,"month":2,"date":1,"utc":true},{"year":2026,"month":2,"date":21,"utc":true},{"year":2026,"month":3,"date":13,"utc":true},{"year":2026,"month":4,"date":2,"utc":true},{"year":2026,"month":4,"date":22,"utc":true},{"year":2026,"month":5,"date":12,"utc":true}],"tickCount":50,"labels":false,"grid":true,"gridColor":"#222226"}},
"y":{"field":"v","type":"quantitative","scale":{"domain":[-3000,129000],"nice":false},"axis":{"orient":"right","values":[20000,60000,100000],"tickCount":50,"labelExpr":"(datum.value/1000) + 'K'","grid":true}},
"color":{"condition":{"test":"datum.c>=datum.o","value":"#2ebd85"},"value":"#f23d63"}}},
{"data":{"name":"k"},"transform":[{"window":[{"op":"mean","field":"v","as":"vma20"}],"frame":[-19,0],"sort":[{"field":"d"}]}],"mark":{"type":"line","color":"#2e74dc","strokeWidth":0.8},"encoding":{"x":{"field":"d","type":"temporal"},"y":{"field":"vma20","type":"quantitative"}}},
{"data":{"name":"k"},"transform":[{"window":[{"op":"mean","field":"v","as":"vma10"}],"frame":[-9,0],"sort":[{"field":"d"}]}],"mark":{"type":"line","color":"#9b7ae0","strokeWidth":0.8},"encoding":{"x":{"field":"d","type":"temporal"},"y":{"field":"vma10","type":"quantitative"}}},
{"data":{"name":"k"},"transform":[{"window":[{"op":"mean","field":"v","as":"vma5"}],"frame":[-4,0],"sort":[{"field":"d"}]}],"mark":{"type":"line","color":"#f0a12f","strokeWidth":0.8},"encoding":{"x":{"field":"d","type":"temporal"},"y":{"field":"vma5","type":"quantitative"}}},
{"data":{"values":[{}]},"mark":{"type":"rule","color":"#2c2c31","strokeWidth":1.5},"encoding":{"y":{"datum":-3000}}},
{"data":{"values":[{}]},"mark":{"type":"rule","color":"#2c2c31","strokeWidth":1},"encoding":{"x":{"datum":{"year":2026,"month":6,"date":10,"hours":16,"utc":true}}}},
{"data":{"values":[{"t":"VOL(5,10,20)"}]},"mark":{"type":"text","color":"#8b8b91"},"encoding":{"x":{"datum":{"year":2025,"month":12,"date":31,"hours":17,"utc":true}},"y":{"datum":106032},"text":{"field":"t"}}},
{"data":{"values":[{"t":"⊘  ⚙  ✕"}]},"mark":{"type":"text","color":"#8b8b91","font":"DejaVu Sans","fontSize":7},"encoding":{"x":{"datum":{"year":2026,"month":1,"date":11,"hours":16,"utc":true}},"y":{"datum":106032},"text":{"field":"t"}}},
{"data":{"values":[{"t":"MA5: 13.082K"}]},"mark":{"type":"text","color":"#f0a12f"},"encoding":{"x":{"datum":{"year":2026,"month":1,"date":19,"hours":14,"utc":true}},"y":{"datum":106032},"text":{"field":"t"}}},
{"data":{"values":[{"t":"MA10: 12.479K"}]},"mark":{"type":"text","color":"#9b7ae0"},"encoding":{"x":{"datum":{"year":2026,"month":1,"date":31,"hours":1,"utc":true}},"y":{"datum":106032},"text":{"field":"t"}}},
{"data":{"values":[{"t":"MA20: 13.101K"}]},"mark":{"type":"text","color":"#2e74dc"},"encoding":{"x":{"datum":{"year":2026,"month":2,"date":12,"hours":5,"utc":true}},"y":{"datum":106032},"text":{"field":"t"}}},
{"data":{"values":[{"t":"VOLUME: 1.054K"}]},"mark":{"type":"text","color":"#2ebd85"},"encoding":{"x":{"datum":{"year":2026,"month":2,"date":24,"hours":13,"utc":true}},"y":{"datum":106032},"text":{"field":"t"}}}
]},
{"width":637,"height":49,"layer":[
{"data":{"name":"ind"},"mark":{"type":"line","color":"#f0a12f"},"encoding":{
"x":{"field":"d","type":"temporal","scale":{"type":"utc","nice":false,"domain":[{"year":2025,"month":12,"date":30,"hours":4,"utc":true},{"year":2026,"month":6,"date":10,"hours":16,"utc":true}]},"axis":{"values":[{"year":2026,"month":1,"date":12,"utc":true},{"year":2026,"month":2,"date":1,"utc":true},{"year":2026,"month":2,"date":21,"utc":true},{"year":2026,"month":3,"date":13,"utc":true},{"year":2026,"month":4,"date":2,"utc":true},{"year":2026,"month":4,"date":22,"utc":true},{"year":2026,"month":5,"date":12,"utc":true}],"tickCount":50,"labels":false,"grid":true,"gridColor":"#222226"}},
"y":{"field":"vr","type":"quantitative","scale":{"domain":[25,297.2],"nice":false},"axis":{"orient":"right","values":[60,150,240],"tickCount":50,"format":".4f","grid":true}}}},
{"data":{"name":"ind"},"mark":{"type":"line","color":"#9b7ae0"},"encoding":{"x":{"field":"d","type":"temporal"},"y":{"field":"mavr","type":"quantitative"}}},
{"data":{"values":[{}]},"mark":{"type":"rule","color":"#2c2c31","strokeWidth":1.5},"encoding":{"y":{"datum":25}}},
{"data":{"values":[{}]},"mark":{"type":"rule","color":"#2c2c31","strokeWidth":1},"encoding":{"x":{"datum":{"year":2026,"month":6,"date":10,"hours":16,"utc":true}}}},
{"data":{"values":[{"t":"VR(26,6)"}]},"mark":{"type":"text","color":"#8b8b91"},"encoding":{"x":{"datum":{"year":2025,"month":12,"date":31,"hours":17,"utc":true}},"y":{"datum":247.2},"text":{"field":"t"}}},
{"data":{"values":[{"t":"⊘  ⚙  ✕"}]},"mark":{"type":"text","color":"#8b8b91","font":"DejaVu Sans","fontSize":7},"encoding":{"x":{"datum":{"year":2026,"month":1,"date":8,"hours":13,"utc":true}},"y":{"datum":247.2},"text":{"field":"t"}}},
{"data":{"values":[{"t":"VR: 65.2680"}]},"mark":{"type":"text","color":"#f0a12f"},"encoding":{"x":{"datum":{"year":2026,"month":1,"date":16,"hours":4,"utc":true}},"y":{"datum":247.2},"text":{"field":"t"}}},
{"data":{"values":[{"t":"MAVR: 88.0436"}]},"mark":{"type":"text","color":"#9b7ae0"},"encoding":{"x":{"datum":{"year":2026,"month":1,"date":26,"hours":15,"utc":true}},"y":{"datum":247.2},"text":{"field":"t"}}}
]},
{"width":637,"height":49,"layer":[
{"data":{"name":"ind"},"mark":{"type":"line","color":"#f0a12f"},"encoding":{
"x":{"field":"d","type":"temporal","scale":{"type":"utc","nice":false,"domain":[{"year":2025,"month":12,"date":30,"hours":4,"utc":true},{"year":2026,"month":6,"date":10,"hours":16,"utc":true}]},"axis":{"values":[{"year":2026,"month":1,"date":12,"utc":true},{"year":2026,"month":2,"date":1,"utc":true},{"year":2026,"month":2,"date":21,"utc":true},{"year":2026,"month":3,"date":13,"utc":true},{"year":2026,"month":4,"date":2,"utc":true},{"year":2026,"month":4,"date":22,"utc":true},{"year":2026,"month":5,"date":12,"utc":true}],"tickCount":50,"labels":false,"grid":true,"gridColor":"#222226"}},
"y":{"field":"obv","type":"quantitative","scale":{"domain":[-647000,-157000],"nice":false},"axis":{"orient":"right","values":[-540000,-420000,-240000],"tickCount":50,"format":",.4f","grid":true}}}},
{"data":{"name":"ind"},"mark":{"type":"line","color":"#9b7ae0"},"encoding":{"x":{"field":"d","type":"temporal"},"y":{"field":"maobv","type":"quantitative"}}},
{"data":{"values":[{}]},"mark":{"type":"rule","color":"#2c2c31","strokeWidth":1.5},"encoding":{"y":{"datum":-647000}}},
{"data":{"values":[{}]},"mark":{"type":"rule","color":"#2c2c31","strokeWidth":1},"encoding":{"x":{"datum":{"year":2026,"month":6,"date":10,"hours":16,"utc":true}}}},
{"data":{"values":[{"t":"OBV(30)"}]},"mark":{"type":"text","color":"#8b8b91"},"encoding":{"x":{"datum":{"year":2025,"month":12,"date":31,"hours":17,"utc":true}},"y":{"datum":-255000},"text":{"field":"t"}}},
{"data":{"values":[{"t":"⊘  ⚙  ✕"}]},"mark":{"type":"text","color":"#8b8b91","font":"DejaVu Sans","fontSize":7},"encoding":{"x":{"datum":{"year":2026,"month":1,"date":8,"hours":8,"utc":true}},"y":{"datum":-255000},"text":{"field":"t"}}},
{"data":{"values":[{"t":"OBV: -440,950.0813"}]},"mark":{"type":"text","color":"#f0a12f"},"encoding":{"x":{"datum":{"year":2026,"month":1,"date":16,"hours":4,"utc":true}},"y":{"datum":-255000},"text":{"field":"t"}}},
{"data":{"values":[{"t":"MAOBV: -387,100.3753"}]},"mark":{"type":"text","color":"#9b7ae0"},"encoding":{"x":{"datum":{"year":2026,"month":1,"date":31,"hours":21,"minutes":30,"utc":true}},"y":{"datum":-255000},"text":{"field":"t"}}}
]},
{"width":637,"height":49,"layer":[
{"data":{"name":"ind"},"mark":{"type":"line","color":"#3a84e0"},"encoding":{
"x":{"field":"d","type":"temporal","scale":{"type":"utc","nice":false,"domain":[{"year":2025,"month":12,"date":30,"hours":4,"utc":true},{"year":2026,"month":6,"date":10,"hours":16,"utc":true}]},"axis":{"values":[{"year":2026,"month":1,"date":12,"utc":true},{"year":2026,"month":2,"date":1,"utc":true},{"year":2026,"month":2,"date":21,"utc":true},{"year":2026,"month":3,"date":13,"utc":true},{"year":2026,"month":4,"date":2,"utc":true},{"year":2026,"month":4,"date":22,"utc":true},{"year":2026,"month":5,"date":12,"utc":true}],"tickCount":50,"labels":false,"grid":true,"gridColor":"#222226"}},
"y":{"field":"kj","type":"quantitative","scale":{"domain":[-20.2,136.6],"nice":false},"axis":{"orient":"right","values":[0,40,80],"tickCount":50,"format":".4f","grid":true}}}},
{"data":{"name":"ind"},"mark":{"type":"line","color":"#9b7ae0"},"encoding":{"x":{"field":"d","type":"temporal"},"y":{"field":"kd","type":"quantitative"}}},
{"data":{"name":"ind"},"mark":{"type":"line","color":"#f0a12f"},"encoding":{"x":{"field":"d","type":"temporal"},"y":{"field":"kk","type":"quantitative"}}},
{"data":{"values":[{}]},"mark":{"type":"rule","color":"#2c2c31","strokeWidth":1.5},"encoding":{"y":{"datum":-20.2}}},
{"data":{"values":[{}]},"mark":{"type":"rule","color":"#2c2c31","strokeWidth":1},"encoding":{"x":{"datum":{"year":2026,"month":6,"date":10,"hours":16,"utc":true}}}},
{"data":{"values":[{"t":"KDJ(9,3,3)"}]},"mark":{"type":"text","color":"#8b8b91"},"encoding":{"x":{"datum":{"year":2025,"month":12,"date":31,"hours":17,"utc":true}},"y":{"datum":107.2},"text":{"field":"t"}}},
{"data":{"values":[{"t":"⊘  ⚙  ✕"}]},"mark":{"type":"text","color":"#8b8b91","font":"DejaVu Sans","fontSize":7},"encoding":{"x":{"datum":{"year":2026,"month":1,"date":10,"hours":1,"utc":true}},"y":{"datum":107.2},"text":{"field":"t"}}},
{"data":{"values":[{"t":"K: 25.7790"}]},"mark":{"type":"text","color":"#f0a12f"},"encoding":{"x":{"datum":{"year":2026,"month":1,"date":17,"hours":17,"utc":true}},"y":{"datum":107.2},"text":{"field":"t"}}},
{"data":{"values":[{"t":"D: 26.8871"}]},"mark":{"type":"text","color":"#9b7ae0"},"encoding":{"x":{"datum":{"year":2026,"month":1,"date":27,"hours":5,"minutes":30,"utc":true}},"y":{"datum":107.2},"text":{"field":"t"}}},
{"data":{"values":[{"t":"J: 23.5637"}]},"mark":{"type":"text","color":"#3a84e0"},"encoding":{"x":{"datum":{"year":2026,"month":2,"date":5,"hours":14,"utc":true}},"y":{"datum":107.2},"text":{"field":"t"}}}
]},
{"width":637,"height":50,"layer":[
{"data":{"name":"k"},"transform":[{"window":[{"op":"lag","field":"m","as":"pm"}],"sort":[{"field":"d"}]}],"mark":{"type":"bar","width":2.4,"strokeWidth":0.7},"encoding":{
"x":{"field":"d","type":"temporal","scale":{"type":"utc","nice":false,"domain":[{"year":2025,"month":12,"date":30,"hours":4,"utc":true},{"year":2026,"month":6,"date":10,"hours":16,"utc":true}]},"axis":{"values":[{"year":2026,"month":1,"date":12,"utc":true},{"year":2026,"month":2,"date":1,"utc":true},{"year":2026,"month":2,"date":21,"utc":true},{"year":2026,"month":3,"date":13,"utc":true},{"year":2026,"month":4,"date":2,"utc":true},{"year":2026,"month":4,"date":22,"utc":true},{"year":2026,"month":5,"date":12,"utc":true}],"tickCount":50,"labels":true,"format":"%Y-%m-%d","labelFontSize":6,"labelPadding":4,"grid":true,"gridColor":"#222226"}},
"y":{"field":"m","type":"quantitative","scale":{"domain":[-6622,4489],"nice":false},"axis":{"orient":"right","values":[-5000,-2000,1000],"tickCount":50,"format":",.4f","grid":true}},
"fill":{"condition":[{"test":"datum.m>=0 && abs(datum.m)>=abs(datum.pm||0)","value":"#2ebd85"},{"test":"datum.m<0 && abs(datum.m)>=abs(datum.pm||0)","value":"#f23d63"}],"value":"transparent"},
"stroke":{"condition":{"test":"datum.m>=0","value":"#2ebd85"},"value":"#f23d63"}}},
{"data":{"name":"ind"},"mark":{"type":"line","color":"#9b7ae0"},"encoding":{"x":{"field":"d","type":"temporal"},"y":{"field":"dea","type":"quantitative"}}},
{"data":{"name":"ind"},"mark":{"type":"line","color":"#f0a12f"},"encoding":{"x":{"field":"d","type":"temporal"},"y":{"field":"dif","type":"quantitative"}}},
{"data":{"values":[{}]},"mark":{"type":"rule","color":"#2c2c31","strokeWidth":1.5},"encoding":{"y":{"datum":-6622}}},
{"data":{"values":[{}]},"mark":{"type":"rule","color":"#2c2c31","strokeWidth":1},"encoding":{"x":{"datum":{"year":2026,"month":6,"date":10,"hours":16,"utc":true}}}},
{"data":{"values":[{"t":"MACD(12,26,9)"}]},"mark":{"type":"text","color":"#8b8b91"},"encoding":{"x":{"datum":{"year":2025,"month":12,"date":31,"hours":17,"utc":true}},"y":{"datum":2267},"text":{"field":"t"}}},
{"data":{"values":[{"t":"⊘  ⚙  ✕"}]},"mark":{"type":"text","color":"#8b8b91","font":"DejaVu Sans","fontSize":7},"encoding":{"x":{"datum":{"year":2026,"month":1,"date":13,"hours":0,"utc":true}},"y":{"datum":2267},"text":{"field":"t"}}},
{"data":{"values":[{"t":"DIF: -1,052.5311"}]},"mark":{"type":"text","color":"#f0a12f"},"encoding":{"x":{"datum":{"year":2026,"month":1,"date":20,"hours":20,"utc":true}},"y":{"datum":2267},"text":{"field":"t"}}},
{"data":{"values":[{"t":"DEA: -561.2843"}]},"mark":{"type":"text","color":"#9b7ae0"},"encoding":{"x":{"datum":{"year":2026,"month":2,"date":3,"hours":5,"utc":true}},"y":{"datum":2267},"text":{"field":"t"}}},
{"data":{"values":[{"t":"MACD: -982.4936"}]},"mark":{"type":"text","color":"#cc2e66"},"encoding":{"x":{"datum":{"year":2026,"month":2,"date":15,"hours":19,"utc":true}},"y":{"datum":2267},"text":{"field":"t"}}}
]}
]
}
